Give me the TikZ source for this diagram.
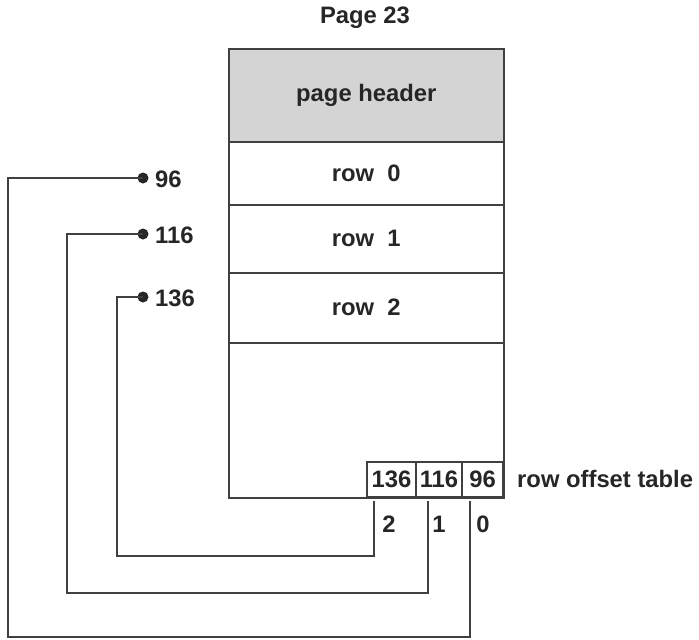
\documentclass[tikz,border=0pt]{standalone}
\usepackage{fontspec}
\setmainfont{Liberation Sans}
\begin{document}
\begin{tikzpicture}[x=1pt,y=-1pt,
  every node/.style={font=\bfseries\fontsize{23.8}{28}\selectfont, text=black!85, inner sep=0pt},
  frame/.style={draw=black!75, line width=1.6pt},
  slot/.style={frame, minimum width=275, anchor=north west},
  cell/.style={frame, fill=white, minimum height=35},
  wire/.style={draw=black!75, line width=1.6pt},
  dot/.style={circle, fill=black!85, minimum size=11pt}]
\useasboundingbox (0,0) rectangle (699,640);

% page layout
\node[slot, fill=black!17, minimum height=93] (hdr) at (228,48) {};
\node at (hdr.center) {page header};
\node[slot, minimum height=63] (r0) at (228,141) {};
\node at (r0.center) {row\ \ 0};
\node[slot, minimum height=68] (r1) at (228,204) {};
\node at (r1.center) {row\ \ 1};
\node[slot, minimum height=70] (r2) at (228,272) {};
\node at (r2.center) {row\ \ 2};
\node[slot, minimum height=155] (free) at (228,342) {};
\node (title) at (365,18) {Page 23};

% row offset table
\node[cell, minimum width=49] (c2) at (391.5,479.5) {136};
\node[cell, minimum width=46] (c1) at (439,479.5) {116};
\node[cell, minimum width=41] (c0) at (482.5,479.5) {96};
\node[anchor=west] (tbl) at (517,479) {row offset table};

% slot indices
\node (i2) at (389,524) {2};
\node (i1) at (439,524) {1};
\node (i0) at (483,524) {0};

% row start offsets
\node[dot] (d0) at (143,178) {};
\node[dot] (d1) at (143,234) {};
\node[dot] (d2) at (143,297) {};
\node[anchor=west] (o0) at (155,179) {96};
\node[anchor=west] (o1) at (155,235) {116};
\node[anchor=west] (o2) at (155,298) {136};

% wire ends and corners
\coordinate (s2) at (374,501);
\coordinate (s1) at (428,501);
\coordinate (s0) at (470,501);
\coordinate (k2) at (117,556);
\coordinate (k1) at (67,593);
\coordinate (k0) at (8,637);

\draw[wire] (s2) |- (k2) |- (d2.center);
\draw[wire] (s1) |- (k1) |- (d1.center);
\draw[wire] (s0) |- (k0) |- (d0.center);
\end{tikzpicture}
\end{document}
